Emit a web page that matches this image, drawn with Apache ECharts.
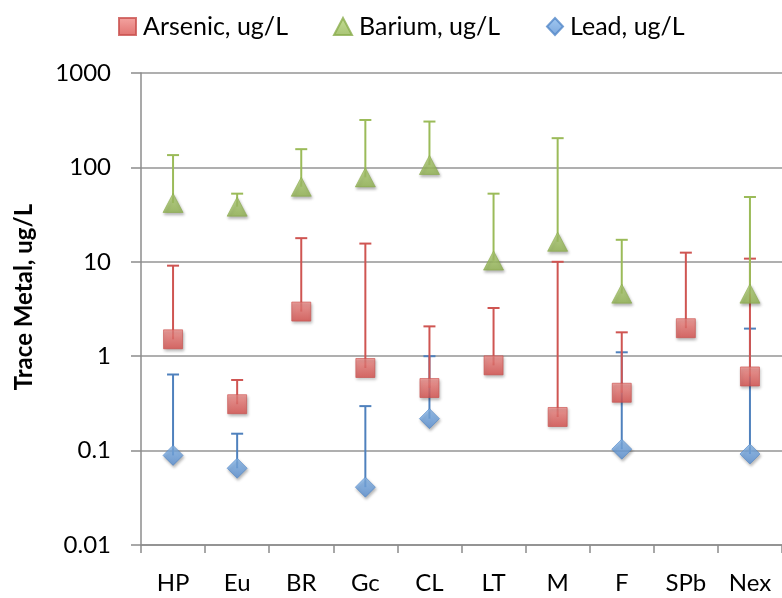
<!DOCTYPE html>
<html>
<head>
<meta charset="utf-8">
<script src="https://cdn.jsdelivr.net/npm/echarts@6/dist/echarts.min.js"></script>
<style>
  html, body { margin: 0; padding: 0; background: #fff; }
  #chart { width: 782px; height: 598px; }
</style>
</head>
<body>
<div id="chart"></div>
<script>
// Sites along the x axis
const categories = ['HP', 'Eu', 'BR', 'Gc', 'CL', 'LT', 'M', 'F', 'SPb', 'Nex'];

// Mean concentrations and the top of each upper error bar (ug/L); null = not measured
const arsenic      = [1.51, 0.31, 2.97, 0.75, 0.46, 0.80, 0.227, 0.41, 1.98, 0.61];
const arsenicUpper = [9.1, 0.56, 17.8, 15.6, 2.07, 3.24, 10, 1.79, 12.5, 10.8];
const barium       = [42, 38.4, 62.4, 78.4, 106, 10.3, 16.3, 4.6, null, 4.6];
const bariumUpper  = [135, 52.7, 156, 318, 306, 52.7, 204, 17.1, null, 48.6];
const lead         = [0.089, 0.065, null, 0.041, 0.218, null, null, 0.1035, null, 0.092];
const leadUpper    = [0.64, 0.151, null, 0.296, 1.0, null, null, 1.1, null, 1.96];

const yTicks = [0.01, 0.1, 1, 10, 100, 1000];

const FONT = 'Lato';

function points(vals) {
  return categories.map((c, i) => vals[i] == null ? null : [c, vals[i]]).filter(Boolean);
}
function bars(vals, uppers) {
  return categories.map((c, i) => vals[i] == null ? null : [c, vals[i], uppers[i]]).filter(Boolean);
}

function errorBarSeries(name, vals, uppers, color, z) {
  return {
    type: 'custom',
    name: name + ' error',
    z: z,
    silent: true,
    data: bars(vals, uppers),
    encode: { x: 0, y: [1, 2] },
    renderItem: function (params, api) {
      const x = api.value(0);
      const base = api.coord([x, api.value(1)]);
      const top = api.coord([x, api.value(2)]);
      const half = 6;
      const style = { stroke: color, lineWidth: 2 };
      return {
        type: 'group',
        children: [
          { type: 'line', shape: { x1: base[0], y1: base[1], x2: top[0], y2: top[1] }, style: style },
          { type: 'line', shape: { x1: top[0] - half, y1: top[1], x2: top[0] + half, y2: top[1] }, style: style }
        ]
      };
    }
  };
}

function grad(top, bottom) {
  return new echarts.graphic.LinearGradient(0, 0, 0, 1, [
    { offset: 0, color: top }, { offset: 1, color: bottom }
  ]);
}

const shadow = { shadowColor: 'rgba(0,0,0,0.35)', shadowBlur: 3, shadowOffsetX: 1, shadowOffsetY: 2 };

// One legend block per series so each entry sits at its own spot
function legendBlock(name, icon, left, w, h) {
  return {
    data: [{ name: name, icon: icon }],
    left: left,
    top: 9,
    itemWidth: w,
    itemHeight: h,
    textStyle: { fontSize: 25, color: '#000', fontFamily: FONT, padding: [0, 0, 0, 2] }
  };
}

const chart = echarts.init(document.getElementById('chart'), null, { renderer: 'canvas' });

chart.setOption({
  animation: false,
  backgroundColor: '#ffffff',
  textStyle: { fontFamily: FONT },
  legend: [
    legendBlock('Arsenic, ug/L', 'rect', 113, 17, 17),
    legendBlock('Barium, ug/L', 'triangle', 328, 18, 17),
    legendBlock('Lead, ug/L', 'diamond', 541, 16, 17)
  ],
  grid: { left: 141, top: 73, width: 646, height: 472, containLabel: false },
  xAxis: {
    type: 'category',
    data: categories,
    boundaryGap: true,
    axisLine: { lineStyle: { color: '#8c8c8c', width: 1.5 } },
    axisTick: { show: true, length: 8, lineStyle: { color: '#8c8c8c', width: 1.5 } },
    axisLabel: { fontSize: 24, color: '#000', margin: 26, fontFamily: FONT },
    splitLine: { show: false }
  },
  yAxis: {
    type: 'log',
    logBase: 10,
    min: 0.01,
    max: 1000,
    name: 'Trace Metal, ug/L',
    nameLocation: 'middle',
    nameRotate: 90,
    nameGap: 105,
    nameTextStyle: { fontSize: 24, fontWeight: 'bold', color: '#000', fontFamily: FONT, padding: [0, 0, 0, 24] },
    axisLine: { show: true, lineStyle: { color: '#8c8c8c', width: 1.5 } },
    axisTick: { show: true, length: 10, lineStyle: { color: '#8c8c8c', width: 1.5 } },
    axisLabel: {
      fontSize: 24, color: '#000', margin: 30, fontFamily: FONT,
      formatter: function (v) {
        const r = parseFloat(Number(v).toPrecision(6));
        return yTicks.indexOf(r) >= 0 ? String(r) : '';
      }
    },
    splitLine: { show: true, lineStyle: { color: '#959595', width: 1.5 } }
  },
  series: [
    errorBarSeries('Lead, ug/L', lead, leadUpper, '#4f81bd', 1),
    errorBarSeries('Arsenic, ug/L', arsenic, arsenicUpper, '#cf5552', 2),
    errorBarSeries('Barium, ug/L', barium, bariumUpper, '#9bbb59', 3),
    {
      type: 'scatter',
      name: 'Arsenic, ug/L',
      z: 5,
      symbol: 'rect',
      symbolSize: 19,
      data: points(arsenic),
      itemStyle: Object.assign({ color: grad('#f18e8a', '#d9504d'), borderColor: '#c9504d', borderWidth: 0.8 }, shadow)
    },
    {
      type: 'scatter',
      name: 'Barium, ug/L',
      z: 5,
      symbol: 'triangle',
      symbolSize: [20, 19],
      data: points(barium),
      itemStyle: Object.assign({ color: grad('#b6d57a', '#93b552'), borderColor: '#8aac4c', borderWidth: 0.8 }, shadow)
    },
    {
      type: 'scatter',
      name: 'Lead, ug/L',
      z: 5,
      symbol: 'diamond',
      symbolSize: 20,
      data: points(lead),
      itemStyle: Object.assign({ color: grad('#8bbcef', '#5a90d3'), borderColor: '#5287c8', borderWidth: 0.8 }, shadow)
    }
  ]
});
</script>
</body>
</html>
